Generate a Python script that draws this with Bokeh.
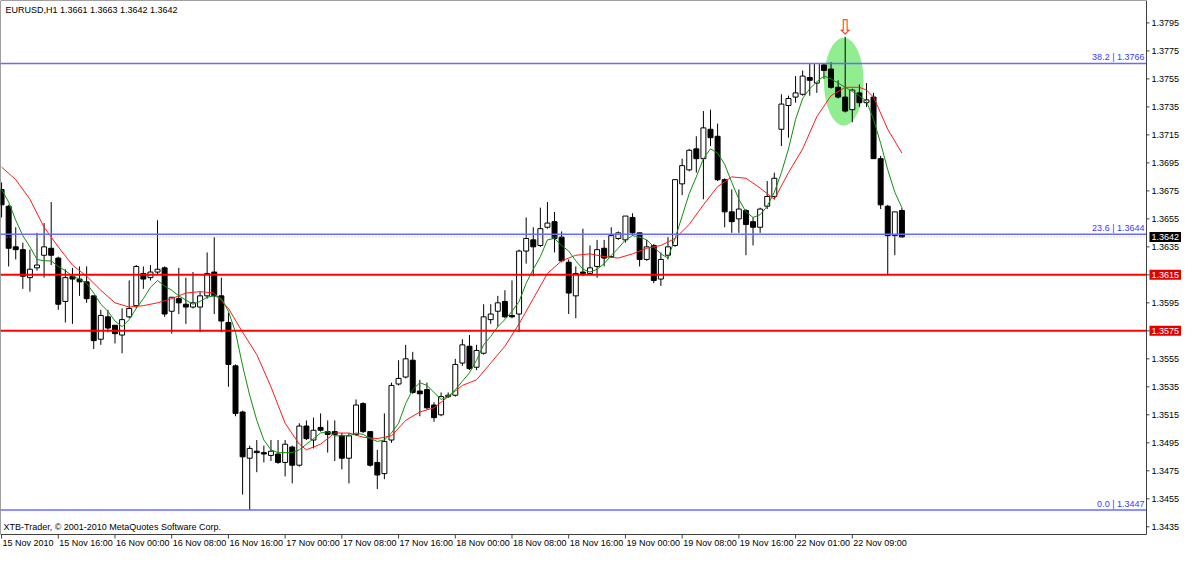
from bokeh.plotting import figure
from bokeh.models import Range1d, Label
from bokeh.embed import file_html
from bokeh.resources import INLINE
from bokeh.core.properties import value

# ---------------- data (EURUSD H1) ----------------
opens = [
    1.3676, 1.3664, 1.3635, 1.3633, 1.3613, 1.3620, 1.3629, 1.3634, 1.3627, 1.3596,
    1.3614, 1.3612, 1.3610, 1.3600, 1.3569, 1.3585, 1.3579, 1.3572, 1.3585, 1.3593,
    1.3616, 1.3613, 1.3617, 1.3620, 1.3589, 1.3598, 1.3594, 1.3592, 1.3592, 1.3600,
    1.3617, 1.3600, 1.3581, 1.3550, 1.3517, 1.3484, 1.3489, 1.3488, 1.3486, 1.3487,
    1.3481, 1.3492, 1.3479, 1.3507, 1.3497, 1.3506, 1.3503, 1.3503, 1.3500, 1.3484,
    1.3501, 1.3523, 1.3503, 1.3481, 1.3473, 1.3497, 1.3537, 1.3542, 1.3554, 1.3532,
    1.3533, 1.3522, 1.3515, 1.3528, 1.3529, 1.3552, 1.3564, 1.3549, 1.3559, 1.3583,
    1.3589, 1.3596, 1.3586, 1.3587, 1.3632, 1.3640, 1.3636, 1.3649, 1.3653, 1.3642,
    1.3624, 1.3600, 1.3617, 1.3616, 1.3621, 1.3634, 1.3628, 1.3641, 1.3640, 1.3656,
    1.3645, 1.3626, 1.3636, 1.3612, 1.3629, 1.3636, 1.3680, 1.3690, 1.3705, 1.3698,
    1.3719, 1.3714, 1.3683, 1.3660, 1.3655, 1.3661, 1.3653, 1.3649, 1.3664, 1.3671,
    1.3719, 1.3736, 1.3742, 1.3744, 1.3756, 1.3752, 1.3765, 1.3762, 1.3749, 1.3742,
    1.3733, 1.3745, 1.3738, 1.3742, 1.3698, 1.3664, 1.3643, 1.3661]
highs = [
    1.3681, 1.3665, 1.3649, 1.3638, 1.3633, 1.3645, 1.3652, 1.3667, 1.3628, 1.3619,
    1.3620, 1.3621, 1.3621, 1.3600, 1.3590, 1.3590, 1.3579, 1.3591, 1.3611, 1.3622,
    1.3621, 1.3622, 1.3654, 1.3621, 1.3599, 1.3620, 1.3613, 1.3617, 1.3603, 1.3631,
    1.3642, 1.3613, 1.3588, 1.3551, 1.3518, 1.3493, 1.3497, 1.3493, 1.3497, 1.3497,
    1.3497, 1.3493, 1.3509, 1.3511, 1.3513, 1.3516, 1.3511, 1.3511, 1.3502, 1.3502,
    1.3526, 1.3524, 1.3503, 1.3490, 1.3516, 1.3538, 1.3554, 1.3565, 1.3560, 1.3540,
    1.3538, 1.3524, 1.3531, 1.3531, 1.3555, 1.3569, 1.3572, 1.3565, 1.3594, 1.3594,
    1.3600, 1.3604, 1.3611, 1.3633, 1.3656, 1.3649, 1.3663, 1.3667, 1.3660, 1.3646,
    1.3626, 1.3621, 1.3648, 1.3636, 1.3640, 1.3640, 1.3649, 1.3646, 1.3657, 1.3659,
    1.3645, 1.3640, 1.3637, 1.3631, 1.3642, 1.3683, 1.3698, 1.3705, 1.3714, 1.3732,
    1.3733, 1.3723, 1.3684, 1.3676, 1.3676, 1.3662, 1.3656, 1.3663, 1.3682, 1.3688,
    1.3744, 1.3743, 1.3757, 1.3761, 1.3766, 1.3766, 1.3766, 1.3767, 1.3754, 1.3785,
    1.3748, 1.3751, 1.3752, 1.3745, 1.3700, 1.3665, 1.3660, 1.3663]
lows = [
    1.3656, 1.3621, 1.3626, 1.3605, 1.3603, 1.3618, 1.3613, 1.3622, 1.3590, 1.3581,
    1.3580, 1.3600, 1.3595, 1.3562, 1.3565, 1.3574, 1.3566, 1.3559, 1.3584, 1.3591,
    1.3605, 1.3611, 1.3615, 1.3585, 1.3573, 1.3587, 1.3580, 1.3591, 1.3574, 1.3598,
    1.3587, 1.3574, 1.3535, 1.3514, 1.3458, 1.3447, 1.3474, 1.3481, 1.3482, 1.3480,
    1.3471, 1.3466, 1.3478, 1.3497, 1.3491, 1.3503, 1.3488, 1.3482, 1.3476, 1.3466,
    1.3500, 1.3502, 1.3478, 1.3462, 1.3469, 1.3495, 1.3536, 1.3541, 1.3530, 1.3514,
    1.3519, 1.3510, 1.3514, 1.3527, 1.3528, 1.3550, 1.3547, 1.3547, 1.3558, 1.3580,
    1.3578, 1.3584, 1.3584, 1.3574, 1.3623, 1.3614, 1.3635, 1.3648, 1.3631, 1.3624,
    1.3587, 1.3584, 1.3614, 1.3615, 1.3613, 1.3621, 1.3627, 1.3640, 1.3638, 1.3643,
    1.3621, 1.3625, 1.3609, 1.3607, 1.3626, 1.3635, 1.3672, 1.3689, 1.3688, 1.3669,
    1.3707, 1.3682, 1.3649, 1.3645, 1.3645, 1.3629, 1.3636, 1.3645, 1.3662, 1.3669,
    1.3707, 1.3713, 1.3738, 1.3743, 1.3743, 1.3745, 1.3755, 1.3748, 1.3741, 1.3731,
    1.3724, 1.3735, 1.3735, 1.3698, 1.3662, 1.3615, 1.3629, 1.3642]
closes = [
    1.3665, 1.3634, 1.3633, 1.3614, 1.3619, 1.3622, 1.3635, 1.3629, 1.3594, 1.3613,
    1.3612, 1.3610, 1.3598, 1.3568, 1.3586, 1.3577, 1.3573, 1.3583, 1.3591, 1.3621,
    1.3612, 1.3617, 1.3619, 1.3587, 1.3599, 1.3595, 1.3592, 1.3595, 1.3600, 1.3616,
    1.3600, 1.3582, 1.3551, 1.3516, 1.3485, 1.3491, 1.3488, 1.3487, 1.3489, 1.3481,
    1.3494, 1.3479, 1.3507, 1.3498, 1.3504, 1.3504, 1.3501, 1.3501, 1.3484, 1.3500,
    1.3522, 1.3503, 1.3479, 1.3472, 1.3496, 1.3536, 1.3541, 1.3555, 1.3531, 1.3530,
    1.3520, 1.3513, 1.3528, 1.3529, 1.3551, 1.3565, 1.3548, 1.3561, 1.3585, 1.3587,
    1.3595, 1.3585, 1.3585, 1.3632, 1.3641, 1.3635, 1.3648, 1.3652, 1.3641, 1.3625,
    1.3602, 1.3616, 1.3616, 1.3620, 1.3633, 1.3627, 1.3643, 1.3645, 1.3657, 1.3645,
    1.3626, 1.3635, 1.3611, 1.3626, 1.3635, 1.3683, 1.3693, 1.3704, 1.3698, 1.3720,
    1.3713, 1.3683, 1.3660, 1.3653, 1.3662, 1.3651, 1.3649, 1.3662, 1.3671, 1.3684,
    1.3737, 1.3741, 1.3745, 1.3757, 1.3754, 1.3766, 1.3761, 1.3749, 1.3742, 1.3732,
    1.3747, 1.3738, 1.3740, 1.3698, 1.3665, 1.3643, 1.3660, 1.3642]

# fast moving average (green), one value per bar
green_ma = [
    1.3676, 1.3667, 1.3654, 1.3643, 1.3635, 1.3626, 1.3625, 1.3625, 1.3621, 1.3618,
    1.3614, 1.3612, 1.3609, 1.3602, 1.3594, 1.3589, 1.3582, 1.3578, 1.3583, 1.3591,
    1.3598, 1.3606, 1.3611, 1.3607, 1.3604, 1.3600, 1.3597, 1.3594, 1.3596, 1.3599,
    1.3600, 1.3598, 1.3589, 1.3574, 1.3550, 1.3529, 1.3511, 1.3497, 1.3490, 1.3488,
    1.3488, 1.3488, 1.3490, 1.3494, 1.3498, 1.3502, 1.3503, 1.3500, 1.3500, 1.3500,
    1.3502, 1.3501, 1.3498, 1.3496, 1.3497, 1.3502, 1.3509, 1.3523, 1.3533, 1.3538,
    1.3536, 1.3531, 1.3526, 1.3528, 1.3533, 1.3539, 1.3545, 1.3554, 1.3565, 1.3571,
    1.3578, 1.3583, 1.3589, 1.3596, 1.3609, 1.3619, 1.3628, 1.3640, 1.3641, 1.3636,
    1.3632, 1.3625, 1.3619, 1.3617, 1.3619, 1.3623, 1.3629, 1.3634, 1.3640, 1.3643,
    1.3642, 1.3640, 1.3635, 1.3630, 1.3627, 1.3641, 1.3657, 1.3673, 1.3685, 1.3698,
    1.3705, 1.3702, 1.3694, 1.3681, 1.3669, 1.3660, 1.3656, 1.3658, 1.3664, 1.3674,
    1.3688, 1.3705, 1.3726, 1.3741, 1.3748, 1.3753, 1.3757, 1.3755, 1.3752, 1.3749,
    1.3746, 1.3743, 1.3739, 1.3726, 1.3709, 1.3690, 1.3674, 1.3663]

# slow moving average (red), sampled
red_ma_bars = [0, 2, 4, 6, 8, 10, 12, 14, 16, 18, 20, 22, 24, 26, 28, 30, 32, 34, 36, 38, 40,
               42, 43, 45, 47, 49, 51, 53, 55, 57, 59, 61, 63, 65, 67, 69, 71, 73, 75, 77, 79,
               81, 83, 85, 87, 89, 91, 93, 95, 97, 99, 101, 103, 105, 107, 109, 111, 113, 115,
               117, 119, 121, 122, 123, 125, 127]
red_ma_vals = [1.3692, 1.3683, 1.3669, 1.3649, 1.3635, 1.3622, 1.3614, 1.3604, 1.3595, 1.3592,
               1.3593, 1.3595, 1.3598, 1.3602, 1.3603, 1.3602, 1.3591, 1.3574, 1.3558, 1.3535,
               1.3509, 1.3494, 1.3490, 1.3494, 1.3502, 1.3502, 1.3499, 1.3498, 1.3500, 1.3511,
               1.3517, 1.3520, 1.3528, 1.3536, 1.3540, 1.3552, 1.3564, 1.3580, 1.3598, 1.3616,
               1.3625, 1.3629, 1.3630, 1.3628, 1.3627, 1.3630, 1.3634, 1.3636, 1.3641, 1.3651,
               1.3665, 1.3678, 1.3685, 1.3684, 1.3677, 1.3669, 1.3688, 1.3705, 1.3728, 1.3743,
               1.3749, 1.3749, 1.3747, 1.3742, 1.3719, 1.3702]

price_ticks = [1.3435, 1.3455, 1.3475, 1.3495, 1.3515, 1.3535, 1.3555, 1.3575, 1.3595,
               1.3615, 1.3635, 1.3655, 1.3675, 1.3695, 1.3715, 1.3735, 1.3755, 1.3775, 1.3795]
time_tick_bars = [0, 8, 16, 24, 32, 40, 48, 56, 64, 72, 80, 88, 96, 104, 112, 120]
time_tick_labels = ["15 Nov 2010", "15 Nov 16:00", "16 Nov 00:00", "16 Nov 08:00",
                    "16 Nov 16:00", "17 Nov 00:00", "17 Nov 08:00", "17 Nov 16:00",
                    "18 Nov 00:00", "18 Nov 08:00", "18 Nov 16:00", "19 Nov 00:00",
                    "19 Nov 08:00", "19 Nov 16:00", "22 Nov 01:00", "22 Nov 09:00"]

fib_levels = [0.0, 23.6, 38.2]
fib_prices = [1.3447, 1.3644, 1.3766]
support_levels = [1.3615, 1.3575]
bid_price = 1.3642
title_text = "EURUSD,H1  1.3661 1.3663 1.3642 1.3642"
footer_text = "XTB-Trader, \u00a9 2001-2010 MetaQuotes Software Corp."

highlight_bar = 118.8
highlight_price = 1.3753
highlight_w_bars = 5.6
highlight_h_price = 0.0063
arrow_bar = 119
arrow_price = 1.3792

# ---------------- layout ----------------
FONT = "Liberation Sans"
W, H = 1184, 548
CHART_W, CHART_H = 1146, 534          # chart frame in pixels, rest is scale area
bx0, bx1 = -0.15, 161.5               # visible bars in the chart frame
py0, py1 = 1.34295, 1.38110           # visible prices in the chart frame
px_per_bar = CHART_W / (bx1 - bx0)
price_per_px = (py1 - py0) / CHART_H
x_end = bx0 + W / px_per_bar
y_start = py1 - H * price_per_px

p = figure(width=W, height=H, output_backend="svg", toolbar_location=None,
           x_range=Range1d(bx0, x_end), y_range=Range1d(y_start, py1),
           x_axis_location=None, y_axis_location=None,
           min_border_left=0, min_border_top=0, min_border_right=0, min_border_bottom=0,
           background_fill_color="white", border_fill_color="white",
           outline_line_color=None)
p.grid.visible = False

# highlight ellipse (background)
p.ellipse(x=[highlight_bar], y=[highlight_price], width=[highlight_w_bars],
          height=[highlight_h_price], fill_color="#90ee90", line_color=None)

# candles
idx = list(range(len(opens)))
up = [i for i in idx if closes[i] >= opens[i]]
dn = [i for i in idx if closes[i] < opens[i]]
p.segment(x0=idx, y0=lows, x1=idx, y1=highs, line_color="black", line_width=1)
p.vbar(x=up, width=0.7, bottom=[opens[i] for i in up], top=[closes[i] for i in up],
       fill_color="white", line_color="black", line_width=1)
p.vbar(x=dn, width=0.7, top=[opens[i] for i in dn], bottom=[closes[i] for i in dn],
       fill_color="black", line_color="black", line_width=1)

# moving averages
p.line(red_ma_bars, red_ma_vals, line_color="#ff1a1a", line_width=1)
p.line(idx, green_ma, line_color="#0f8f0f", line_width=1)

# arrow
p.text(x=[arrow_bar], y=[arrow_price], text=["\u21e9"], text_color="#ff2a2a",
       text_font=value("DejaVu Sans"), text_font_size="20px",
       text_align="center", text_baseline="middle")

# horizontal levels
p.segment(x0=[bx0] * len(fib_prices), x1=[bx1] * len(fib_prices), y0=fib_prices, y1=fib_prices,
          line_color="#6a6aff", line_width=1.6)
p.segment(x0=[bx0], x1=[bx1], y0=[bid_price], y1=[bid_price], line_color="#b8b8b8",
          line_dash="1 2", line_width=1)
p.segment(x0=[bx0] * len(support_levels), x1=[bx1] * len(support_levels),
          y0=support_levels, y1=support_levels, line_color="#ff0000", line_width=2)
p.text(x=[bx1] * len(fib_prices), y=fib_prices, x_offset=-2, y_offset=-1,
       text=[f"{lv:.1f} | {pr:.4f}" for lv, pr in zip(fib_levels, fib_prices)],
       text_align="right", text_baseline="bottom", text_color="#3a3aff",
       text_font=value(FONT), text_font_size="9px")

# chart frame
p.quad(left=[bx0], right=[bx1], bottom=[py0], top=[py1], fill_color=None,
       line_color="#404040", line_width=1)

# price scale on the right
tick_len = 3 / px_per_bar
p.segment(x0=[bx1] * len(price_ticks), x1=[bx1 + tick_len] * len(price_ticks),
          y0=price_ticks, y1=price_ticks, line_color="#404040", line_width=1)
p.text(x=[bx1] * len(price_ticks), y=price_ticks, x_offset=5,
       text=[f"{t:.4f}" for t in price_ticks], text_align="left", text_baseline="middle",
       text_color="black", text_font=value(FONT), text_font_size="9px")

# price boxes on the right scale
for pr, bg in [(bid_price, "black")] + [(s, "#e00000") for s in support_levels]:
    p.add_layout(Label(x=bx1, y=pr, x_offset=3, text=f"{pr:.4f}", text_align="left",
                       text_baseline="middle", text_color="white", background_fill_color=bg,
                       text_font=FONT, text_font_size="9px", padding=2))

# time scale below
tick_h = 4 * price_per_px
p.segment(x0=time_tick_bars, x1=time_tick_bars, y0=[py0] * len(time_tick_bars),
          y1=[py0 - tick_h] * len(time_tick_bars), line_color="#404040", line_width=1)
p.text(x=time_tick_bars, y=[py0] * len(time_tick_bars), x_offset=1, y_offset=3,
       text=time_tick_labels, text_align="left", text_baseline="top", text_color="black",
       text_font=value(FONT), text_font_size="9px")

p.add_layout(Label(x=bx0, y=py1, x_offset=5, y_offset=-4, text=title_text,
                   text_align="left", text_baseline="top", text_color="black",
                   text_font=FONT, text_font_size="9px"))
p.add_layout(Label(x=bx0, y=py0, x_offset=3, y_offset=3, text=footer_text,
                   text_align="left", text_baseline="bottom", text_color="black",
                   text_font=FONT, text_font_size="9px"))

open("out.html", "w").write(file_html(p, INLINE))
